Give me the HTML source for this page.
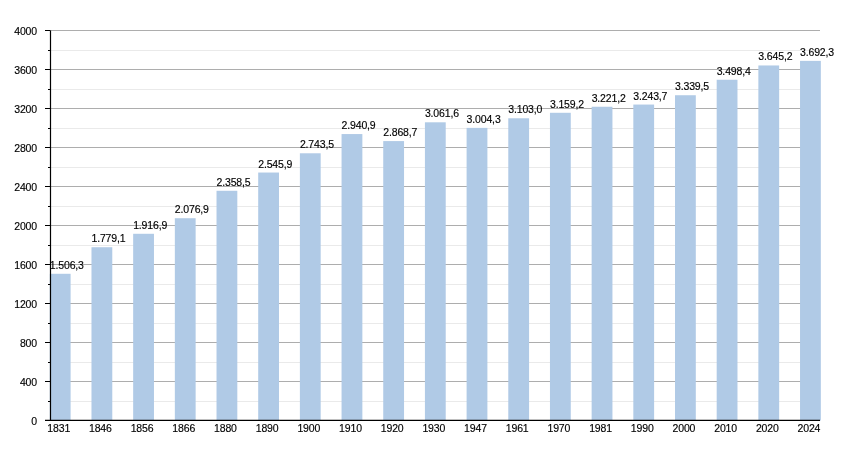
<!DOCTYPE html>
<html><head><meta charset="utf-8"><style>
html,body{margin:0;padding:0;background:#fff;width:850px;height:450px;overflow:hidden}
svg{display:block;will-change:transform}
text{font-family:"Liberation Sans",sans-serif;font-size:10.5px;fill:#000;stroke:#000;stroke-width:0.15px;letter-spacing:-0.15px}
</style></head><body>
<svg width="850" height="450" viewBox="0 0 850 450">
<line x1="51" y1="401.50" x2="820" y2="401.50" stroke="#eaeaea" stroke-width="1"/>
<line x1="51" y1="362.50" x2="820" y2="362.50" stroke="#eaeaea" stroke-width="1"/>
<line x1="51" y1="323.50" x2="820" y2="323.50" stroke="#eaeaea" stroke-width="1"/>
<line x1="51" y1="284.50" x2="820" y2="284.50" stroke="#eaeaea" stroke-width="1"/>
<line x1="51" y1="245.50" x2="820" y2="245.50" stroke="#eaeaea" stroke-width="1"/>
<line x1="51" y1="206.50" x2="820" y2="206.50" stroke="#eaeaea" stroke-width="1"/>
<line x1="51" y1="167.50" x2="820" y2="167.50" stroke="#eaeaea" stroke-width="1"/>
<line x1="51" y1="128.50" x2="820" y2="128.50" stroke="#eaeaea" stroke-width="1"/>
<line x1="51" y1="89.50" x2="820" y2="89.50" stroke="#eaeaea" stroke-width="1"/>
<line x1="51" y1="50.50" x2="820" y2="50.50" stroke="#eaeaea" stroke-width="1"/>
<line x1="51" y1="381.50" x2="820" y2="381.50" stroke="#adadad" stroke-width="1"/>
<line x1="51" y1="342.50" x2="820" y2="342.50" stroke="#adadad" stroke-width="1"/>
<line x1="51" y1="303.50" x2="820" y2="303.50" stroke="#adadad" stroke-width="1"/>
<line x1="51" y1="264.50" x2="820" y2="264.50" stroke="#adadad" stroke-width="1"/>
<line x1="51" y1="225.50" x2="820" y2="225.50" stroke="#adadad" stroke-width="1"/>
<line x1="51" y1="186.50" x2="820" y2="186.50" stroke="#adadad" stroke-width="1"/>
<line x1="51" y1="147.50" x2="820" y2="147.50" stroke="#adadad" stroke-width="1"/>
<line x1="51" y1="108.50" x2="820" y2="108.50" stroke="#adadad" stroke-width="1"/>
<line x1="51" y1="69.50" x2="820" y2="69.50" stroke="#adadad" stroke-width="1"/>
<line x1="51" y1="30.50" x2="820" y2="30.50" stroke="#adadad" stroke-width="1"/>
<rect x="49.80" y="273.79" width="20.8" height="146.71" fill="#b0cae6"/>
<rect x="91.48" y="247.22" width="20.8" height="173.28" fill="#b0cae6"/>
<rect x="133.16" y="233.79" width="20.8" height="186.71" fill="#b0cae6"/>
<rect x="174.84" y="218.21" width="20.8" height="202.29" fill="#b0cae6"/>
<rect x="216.52" y="190.78" width="20.8" height="229.72" fill="#b0cae6"/>
<rect x="258.20" y="172.53" width="20.8" height="247.97" fill="#b0cae6"/>
<rect x="299.88" y="153.28" width="20.8" height="267.22" fill="#b0cae6"/>
<rect x="341.56" y="134.06" width="20.8" height="286.44" fill="#b0cae6"/>
<rect x="383.24" y="141.09" width="20.8" height="279.41" fill="#b0cae6"/>
<rect x="424.92" y="122.30" width="20.8" height="298.20" fill="#b0cae6"/>
<rect x="466.60" y="127.88" width="20.8" height="292.62" fill="#b0cae6"/>
<rect x="508.28" y="118.27" width="20.8" height="302.23" fill="#b0cae6"/>
<rect x="549.96" y="112.79" width="20.8" height="307.71" fill="#b0cae6"/>
<rect x="591.64" y="106.76" width="20.8" height="313.74" fill="#b0cae6"/>
<rect x="633.32" y="104.56" width="20.8" height="315.94" fill="#b0cae6"/>
<rect x="675.00" y="95.23" width="20.8" height="325.27" fill="#b0cae6"/>
<rect x="716.68" y="79.76" width="20.8" height="340.74" fill="#b0cae6"/>
<rect x="758.36" y="65.46" width="20.8" height="355.04" fill="#b0cae6"/>
<rect x="800.04" y="60.87" width="20.8" height="359.63" fill="#b0cae6"/>
<line x1="50.5" y1="30.5" x2="50.5" y2="420.5" stroke="#000" stroke-width="1.2"/>
<line x1="45" y1="420.4" x2="820" y2="420.4" stroke="#000" stroke-width="1.2"/>
<line x1="48" y1="401.50" x2="50.5" y2="401.50" stroke="#000" stroke-width="1"/>
<line x1="45" y1="381.50" x2="50.5" y2="381.50" stroke="#000" stroke-width="1"/>
<line x1="48" y1="362.50" x2="50.5" y2="362.50" stroke="#000" stroke-width="1"/>
<line x1="45" y1="342.50" x2="50.5" y2="342.50" stroke="#000" stroke-width="1"/>
<line x1="48" y1="323.50" x2="50.5" y2="323.50" stroke="#000" stroke-width="1"/>
<line x1="45" y1="303.50" x2="50.5" y2="303.50" stroke="#000" stroke-width="1"/>
<line x1="48" y1="284.50" x2="50.5" y2="284.50" stroke="#000" stroke-width="1"/>
<line x1="45" y1="264.50" x2="50.5" y2="264.50" stroke="#000" stroke-width="1"/>
<line x1="48" y1="245.50" x2="50.5" y2="245.50" stroke="#000" stroke-width="1"/>
<line x1="45" y1="225.50" x2="50.5" y2="225.50" stroke="#000" stroke-width="1"/>
<line x1="48" y1="206.50" x2="50.5" y2="206.50" stroke="#000" stroke-width="1"/>
<line x1="45" y1="186.50" x2="50.5" y2="186.50" stroke="#000" stroke-width="1"/>
<line x1="48" y1="167.50" x2="50.5" y2="167.50" stroke="#000" stroke-width="1"/>
<line x1="45" y1="147.50" x2="50.5" y2="147.50" stroke="#000" stroke-width="1"/>
<line x1="48" y1="128.50" x2="50.5" y2="128.50" stroke="#000" stroke-width="1"/>
<line x1="45" y1="108.50" x2="50.5" y2="108.50" stroke="#000" stroke-width="1"/>
<line x1="48" y1="89.50" x2="50.5" y2="89.50" stroke="#000" stroke-width="1"/>
<line x1="45" y1="69.50" x2="50.5" y2="69.50" stroke="#000" stroke-width="1"/>
<line x1="48" y1="50.50" x2="50.5" y2="50.50" stroke="#000" stroke-width="1"/>
<line x1="45" y1="30.50" x2="50.5" y2="30.50" stroke="#000" stroke-width="1"/>
<text x="37" y="425.20" text-anchor="end">0</text>
<text x="37" y="386.20" text-anchor="end">400</text>
<text x="37" y="347.20" text-anchor="end">800</text>
<text x="37" y="308.20" text-anchor="end">1200</text>
<text x="37" y="269.20" text-anchor="end">1600</text>
<text x="37" y="230.20" text-anchor="end">2000</text>
<text x="37" y="191.20" text-anchor="end">2400</text>
<text x="37" y="152.20" text-anchor="end">2800</text>
<text x="37" y="113.20" text-anchor="end">3200</text>
<text x="37" y="74.20" text-anchor="end">3600</text>
<text x="37" y="35.20" text-anchor="end">4000</text>
<text x="58.70" y="432" text-anchor="middle">1831</text>
<text x="100.38" y="432" text-anchor="middle">1846</text>
<text x="142.06" y="432" text-anchor="middle">1856</text>
<text x="183.74" y="432" text-anchor="middle">1866</text>
<text x="225.42" y="432" text-anchor="middle">1880</text>
<text x="267.10" y="432" text-anchor="middle">1890</text>
<text x="308.78" y="432" text-anchor="middle">1900</text>
<text x="350.46" y="432" text-anchor="middle">1910</text>
<text x="392.14" y="432" text-anchor="middle">1920</text>
<text x="433.82" y="432" text-anchor="middle">1930</text>
<text x="475.50" y="432" text-anchor="middle">1947</text>
<text x="517.18" y="432" text-anchor="middle">1961</text>
<text x="558.86" y="432" text-anchor="middle">1970</text>
<text x="600.54" y="432" text-anchor="middle">1981</text>
<text x="642.22" y="432" text-anchor="middle">1990</text>
<text x="683.90" y="432" text-anchor="middle">2000</text>
<text x="725.58" y="432" text-anchor="middle">2010</text>
<text x="767.26" y="432" text-anchor="middle">2020</text>
<text x="808.94" y="432" text-anchor="middle">2024</text>
<text x="49.80" y="268.79">1.506,3</text>
<text x="91.48" y="242.22">1.779,1</text>
<text x="133.16" y="228.79">1.916,9</text>
<text x="174.84" y="213.21">2.076,9</text>
<text x="216.52" y="185.78">2.358,5</text>
<text x="258.20" y="167.53">2.545,9</text>
<text x="299.88" y="148.28">2.743,5</text>
<text x="341.56" y="129.06">2.940,9</text>
<text x="383.24" y="136.09">2.868,7</text>
<text x="424.92" y="117.30">3.061,6</text>
<text x="466.60" y="122.88">3.004,3</text>
<text x="508.28" y="113.27">3.103,0</text>
<text x="549.96" y="107.79">3.159,2</text>
<text x="591.64" y="101.76">3.221,2</text>
<text x="633.32" y="99.56">3.243,7</text>
<text x="675.00" y="90.23">3.339,5</text>
<text x="716.68" y="74.76">3.498,4</text>
<text x="758.36" y="60.46">3.645,2</text>
<text x="800.04" y="55.87">3.692,3</text>
</svg>
</body></html>
